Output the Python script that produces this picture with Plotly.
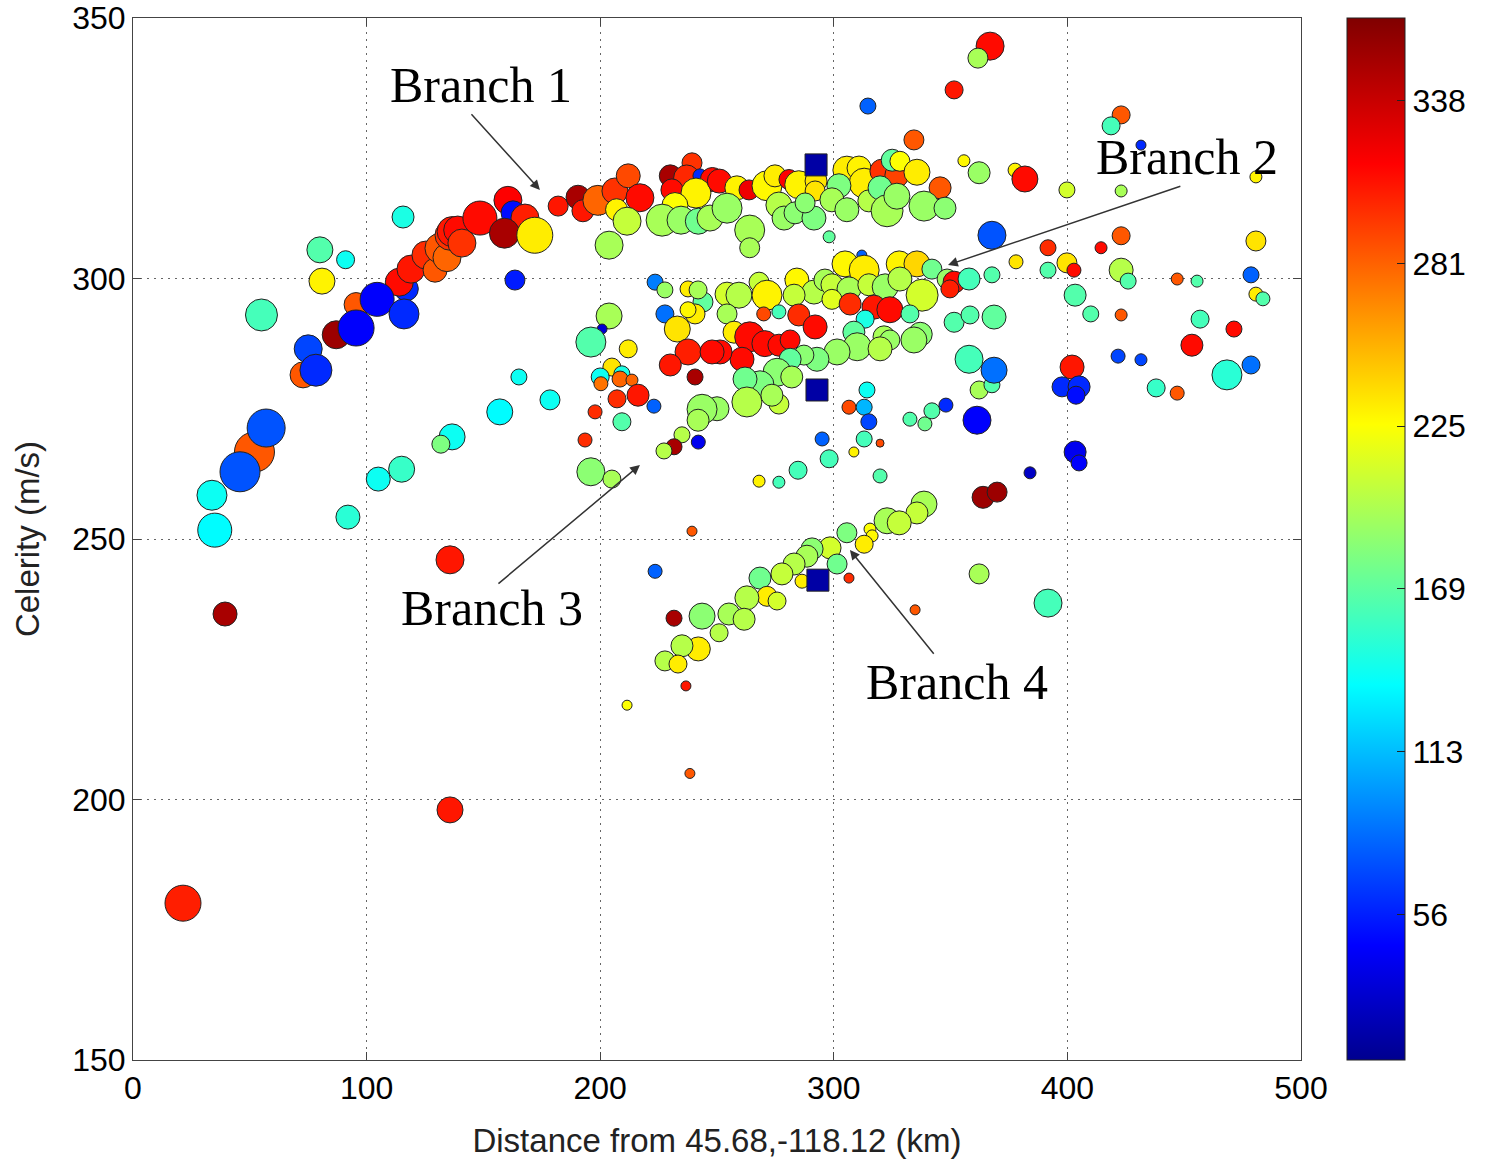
import plotly.graph_objects as go

# ---------------- data ----------------
distance_km = [
    21.4, 39.4, 135.7, 135.7, 35, 33.8, 52, 45.8, 57, 55,
    80, 80.9, 91, 72.8, 75, 78.3, 87, 95.5, 95.5, 117,
    114, 104.5, 116, 119, 105, 115, 92, 115.6, 125.4, 129.3,
    131.4, 134.4, 135.7, 136.6, 139, 140.8, 148.5, 160.5, 162.7, 167.8,
    159, 172, 163.5, 182, 190.5, 192.6, 199, 206.3, 212, 217,
    207, 211.5, 203.8, 230, 239.3, 237, 242.7, 248, 230.7, 241,
    232, 226.5, 234.6, 242, 247, 251, 258.5, 263.7, 271.4, 274.8,
    280.8, 285, 292.4, 292, 305.6, 310.8, 313, 320.6, 327, 325,
    328.3, 335.6, 345.5, 334.3, 351.5, 314.6, 366.9, 361.7, 355.7, 362.2,
    367.7, 254.3, 264, 276.5, 278.7, 283.4, 291.5, 287.7, 302.2, 299.2,
    305.6, 315, 319.8, 322.8, 327, 338.6, 347.6, 298, 264,
    423, 418.7, 431.5, 377.6, 381.8, 399.8, 423, 480.7, 423, 414.4,
    391.7, 480.7,
    378, 391.7, 399.8, 402.8, 423, 426, 403.3, 410, 423, 447,
    455.5, 478.6, 480.7, 483.7, 456.8, 471.3, 453.3, 421.7, 431.5, 402,
    397.7, 405, 403.7, 468.3, 478.6, 438, 447, 403.3, 405, 384,
    312, 304.8, 313, 328, 335.6, 342, 348.5, 351.5, 349.7, 357.9,
    367.7, 254.3, 259.4, 268, 271.4, 284.2, 291.5, 296.2, 299.2, 306.5,
    315, 322, 328.3, 337.8, 299.2, 283, 307, 317.2, 324, 313.4,
    332.6, 285, 276.5, 270, 254.3, 292, 257.3, 264, 270.5, 276.5,
    281.3, 260.7, 251.3, 308.6, 310, 321.5, 324, 319.8, 337, 334.3,
    301.4, 292.8, 287.2, 281.3, 275.7, 268.4, 262, 282, 262.8, 276.5,
    273.5, 250, 314.2, 306.5, 313, 315, 313, 319.8, 308.6, 295,
    298, 284.7, 319.8, 268, 276.5, 332.6, 339, 342, 348, 361.3,
    362.2, 367.7, 368.6, 357.9, 351.5, 358.3, 368.6, 363.9, 369.9,
    223.5, 227.7, 237.6, 244, 241.9, 240.6, 237.6, 227.7, 233, 237.6,
    230, 247.9, 240.6, 203.8, 200.8, 196, 212, 205, 200, 209.3,
    208.5, 213.6, 200.3, 207.2, 216.2, 223, 209.3, 197.8, 193.5, 243.6,
    241.9, 235, 231.6, 227.3, 242, 196, 205, 165.2, 178.5, 157,
    136.6, 131.8,
    239.3, 223.5, 231.6, 243.6, 242, 235, 227.7, 233.3, 236.7, 211.5,
    238.4,
    338.6, 335.6, 322.8, 328, 315.5, 316.4, 305.6, 313, 298.4, 290.7,
    288.5, 283, 301.4, 286.4, 277.8, 268.4, 271.4, 262.8, 275.7, 255.1,
    261.6, 250.9, 306.5, 334.8, 362.2, 391.7,
]

celerity = [
    180.1, 235.6, 246, 198, 251.7, 258.4, 266.7, 262.9, 271.3, 293,
    305.5, 299.5, 303.6, 281.5, 286.5, 282.4, 289.2, 295, 290.5, 298,
    299.3, 296, 293.2, 301.8, 261.5, 263.4, 254.2, 311.8, 304.5, 301.6,
    305.8, 304, 308.3, 309, 309.3, 306.8, 311.6, 315, 312.6, 311.6,
    308.7, 308.3, 299.7, 313.9, 315.6, 313, 315, 316.8, 319.7, 315.5,
    313.2, 311, 306.4, 319.7, 322.2, 319.3, 319.7, 319, 317, 316.4,
    314, 311.2, 311.2, 311, 311.6, 318.7, 317.4, 317, 317.8, 319.7,
    319, 318, 318.7, 316.8, 320.8, 321.2, 318.3, 320.6, 319.8, 322.7,
    322.5, 320.4, 317.4, 326.6, 336.2, 333.1, 344.6, 342.3, 322.6, 320.3,
    308.3, 313.5, 309.3, 314.1, 311.6, 312.6, 311.6, 314.5, 317.8, 315.1,
    313.2, 314.9, 317.4, 313, 315.8, 313.9, 313.5, 308, 305.9,
    331.4, 329.3, 325.6, 320.8, 319.1, 317, 316.8, 319.5, 308.2, 305.9,
    305.9, 307.2,
    303.2, 301.6, 303, 301.6, 301.6, 299.5, 296.8, 293.2, 293, 299.9,
    299.5, 300.7, 297, 296.1, 292.2, 290.3, 287.2, 285.1, 284.4, 283,
    279.2, 279.2, 277.6, 281.5, 283.4, 279, 278, 266.7, 264.6, 262.7,
    304.5, 302.8, 301.6, 302.8, 302.8, 301.8, 299.9, 299.3, 298, 299.9,
    300.7, 297, 296.8, 299.3, 296.8, 299.7, 297.4, 299.7, 298.8, 298,
    298.8, 298.4, 299.9, 296.8, 296, 296.8, 295.1, 294.5, 294, 292.2,
    293.2, 293, 293.6, 293.2, 293.2, 290.7, 289.7, 288.8, 287.5, 287.2,
    288.2, 284.5, 285.9, 289.7, 286.9, 288.8, 288.2, 286.5, 289.3, 288.2,
    285.9, 284.5, 285.3, 284.5, 282, 279.6, 280.7, 281.1, 276.3, 275.9,
    277.6, 275, 278.6, 275.3, 275.3, 272.5, 269.2, 268.4, 266.7, 269.2,
    265.4, 263.2, 262.1, 261.1, 260.9, 273, 272.1, 274.6, 275.7, 272.8,
    278.6, 279.6, 282.4, 284.5, 291.6, 293, 292.6, 258, 259,
    299.3, 297.8, 298, 295.5, 297.8, 293.2, 294, 293.2, 290.3, 285.9,
    283.4, 285.9, 281.1, 292.8, 290.3, 287.8, 286.5, 283, 281.1, 281.7,
    280.7, 280.5, 279.8, 276.9, 277.6, 275.5, 272.5, 274.4, 269, 274.9,
    272.8, 270, 267.7, 266.9, 268.6, 262.9, 261.5, 281.1, 276.7, 274.4,
    269.6, 268.2,
    251.5, 243.8, 234.8, 235.2, 228.9, 229.5, 226.6, 226, 221.8, 218.1,
    205,
    256.7, 255, 253.5, 253.1, 251.9, 250.6, 251.2, 249, 248.3, 248.1,
    246.7, 245.2, 245.2, 241.9, 243.3, 242.5, 239, 238.7, 238.1, 235.6,
    234.6, 232, 242.5, 236.4, 243.3, 237.7,
]

back_azimuth = [
    305, 350, 308, 308, 135, 140, 285, 75, 75, 160,
    165, 230, 140, 285, 70, 60, 355, 285, 45, 60,
    312, 45, 60, 308, 140, 155, 150, 145, 300, 285,
    285, 280, 298, 308, 312, 298, 312, 316, 50, 305,
    350, 232, 55, 308, 350, 308, 280, 298, 290, 312,
    230, 205, 195, 350, 298, 302, 60, 312, 312, 230,
    225, 195, 190, 175, 195, 312, 230, 322, 228, 232,
    316, 230, 235, 235, 232, 230, 232, 298, 292, 170,
    225, 232, 285, 285, 308, 80, 312, 195, 228, 190,
    75, 190, 195, 200, 190, 185, 180, 185, 180, 195,
    190, 200, 175, 195, 190, 190, 185, 170, 195,
    285, 160, 60, 230, 312, 210, 195, 230, 285, 312,
    300, 235,
    235, 165, 235, 312, 200, 165, 165, 165, 285, 285,
    165, 80, 232, 165, 160, 312, 312, 70, 70, 308,
    60, 60, 50, 150, 85, 155, 285, 40, 45, 25,
    80, 228, 232, 230, 240, 175, 190, 312, 305, 160,
    165, 210, 200, 205, 230, 228, 200, 195, 205, 195,
    205, 190, 200, 210, 215, 205, 300, 308, 312, 145,
    165, 300, 160, 290, 195, 312, 232, 312, 312, 312,
    312, 312, 312, 170, 190, 195, 190, 200, 185, 190,
    190, 180, 185, 170, 185, 180, 175, 195, 200, 205,
    195, 190, 140, 290, 110, 70, 160, 290, 230, 80,
    160, 160, 165, 230, 160, 165, 175, 165, 60, 45,
    195, 165, 85, 160, 165, 165, 170, 355, 355,
    90, 190, 232, 170, 195, 232, 228, 85, 235, 305,
    308, 312, 350, 195, 30, 165, 232, 235, 140, 145,
    280, 280, 275, 300, 308, 80, 165, 300, 300, 190,
    195, 200, 350, 200, 40, 185, 195, 140, 140, 135,
    140, 180,
    285, 80, 350, 185, 232, 200, 200, 232, 308, 225,
    285,
    195, 205, 195, 205, 225, 228, 180, 232, 210, 185,
    195, 200, 175, 232, 205, 175, 232, 200, 210, 195,
    200, 200, 300, 285, 195, 160,
]

relative_amplitude = [
    36, 24, 28, 26, 34, 30, 40, 40, 38, 32,
    26, 26, 18, 26, 28, 32, 28, 24, 36, 24,
    28, 34, 30, 28, 24, 26, 24, 22, 28, 24,
    30, 28, 30, 30, 28, 28, 34, 28, 24, 28,
    30, 36, 20, 20, 24, 22, 30, 26, 24, 28,
    22, 28, 28, 22, 20, 26, 14, 24, 22, 30,
    26, 32, 28, 26, 26, 24, 24, 20, 30, 22,
    20, 28, 22, 20, 28, 24, 30, 24, 24, 22,
    20, 26, 22, 20, 18, 16, 28, 20, 12, 22,
    28, 30, 30, 26, 24, 22, 24, 20, 24, 24,
    24, 22, 24, 32, 26, 30, 22, 12, 20,
    18, 18, 10, 14, 26, 16, 12, 12, 18, 12,
    16, 20,
    14, 16, 20, 14, 24, 16, 22, 16, 12, 12,
    12, 16, 14, 14, 18, 16, 22, 14, 12, 24,
    20, 22, 18, 30, 18, 18, 14, 22, 16, 12,
    10, 26, 30, 26, 26, 20, 20, 22, 18, 22,
    16, 24, 26, 20, 30, 24, 24, 22, 22, 24,
    22, 26, 24, 32, 20, 22, 22, 24, 26, 18,
    18, 22, 14, 14, 20, 24, 22, 30, 26, 22,
    20, 24, 24, 22, 28, 22, 20, 24, 24, 26,
    26, 24, 20, 22, 28, 28, 24, 22, 30, 20,
    22, 24, 16, 14, 16, 16, 16, 8, 10, 14,
    18, 18, 14, 12, 12, 14, 14, 16, 14, 28,
    18, 16, 26, 28, 20, 18, 24, 22, 20,
    16, 16, 16, 20, 18, 20, 16, 18, 26, 26,
    22, 24, 16, 26, 10, 30, 18, 18, 18, 16,
    16, 12, 14, 18, 22, 14, 18, 14, 14, 30,
    22, 16, 16, 16, 14, 28, 18, 16, 20, 26,
    26, 18,
    10, 14, 16, 26, 24, 22, 20, 18, 10, 10,
    10,
    26, 22, 26, 24, 12, 12, 20, 18, 22, 22,
    22, 22, 20, 14, 22, 22, 20, 24, 18, 22,
    22, 18, 10, 10, 20, 28,
]

# square-marker events
sq_distance_km = [292.4, 292.8, 293.2]
sq_celerity = [321.8, 278.6, 242.1]
sq_relative_amplitude = [22, 22, 22]

cbar_tickvals = [56.25, 112.5, 168.75, 225, 281.25, 337.5]
cbar_ticktext = ["56", "113", "169", "225", "281", "338"]
x_ticks = [0, 100, 200, 300, 400, 500]
y_ticks = [150, 200, 250, 300, 350]

branch_labels = ["Branch 1", "Branch 2", "Branch 3", "Branch 4"]
label_x = [149, 451.2, 153.7, 352.7]
label_y = [337.1, 323.3, 236.8, 222.6]
arrow_tail_x = [144.3, 449, 155.8, 343.3]
arrow_tail_y = [331.8, 317.8, 241.2, 227.7]
arrow_head_x = [174.2, 348.9, 217, 306.9]
arrow_head_y = [317, 302.6, 264.2, 247.9]

# ---------------- figure ----------------
jet = [
    [0.0, "rgb(0,0,143)"],
    [0.11, "rgb(0,0,255)"],
    [0.36, "rgb(0,255,255)"],
    [0.61, "rgb(255,255,0)"],
    [0.86, "rgb(255,0,0)"],
    [1.0, "rgb(128,0,0)"],
]
CMIN, CMAX = 6, 366
SANS = "Liberation Sans, Arial, sans-serif"

fig = go.Figure()

fig.add_trace(go.Scatter(
    x=distance_km, y=celerity, mode="markers",
    marker=dict(
        size=relative_amplitude, sizemode="diameter",
        color=back_azimuth, colorscale=jet, cmin=CMIN, cmax=CMAX,
        line=dict(color="#222222", width=1),
        opacity=1,
        colorbar=dict(
            x=1.0394, xanchor="left", y=0.5, yanchor="middle",
            len=1, lenmode="fraction", thickness=58, thicknessmode="pixels",
            xpad=0, ypad=0, outlinewidth=1, outlinecolor="#222222",
            ticks="inside", ticklen=8, tickcolor="#222222",
            tickvals=cbar_tickvals, ticktext=cbar_ticktext,
            tickfont=dict(size=32, color="black", family=SANS),
        ),
    ),
    hoverinfo="x+y", showlegend=False,
))

fig.add_trace(go.Scatter(
    x=sq_distance_km, y=sq_celerity, mode="markers",
    marker=dict(
        size=sq_relative_amplitude, symbol="square",
        color="rgb(0,0,165)", opacity=1,
        line=dict(color="#222222", width=1),
    ),
    showlegend=False,
))

for i, txt in enumerate(branch_labels):
    fig.add_annotation(
        x=label_x[i], y=label_y[i], xref="x", yref="y", text=txt,
        showarrow=False, xanchor="center", yanchor="middle",
        font=dict(family="Liberation Serif, Times New Roman, serif", size=50, color="black"),
    )
    fig.add_annotation(
        x=arrow_head_x[i], y=arrow_head_y[i], xref="x", yref="y",
        ax=arrow_tail_x[i], ay=arrow_tail_y[i], axref="x", ayref="y",
        text="", showarrow=True, arrowhead=2, arrowsize=1.3,
        arrowwidth=1.5, arrowcolor="#333333", standoff=0,
    )

axis_common = dict(
    showline=True, linecolor="#444444", linewidth=1, mirror="ticks",
    ticks="inside", ticklen=8, tickcolor="#444444",
    showgrid=True, gridcolor="#666666", gridwidth=1, griddash="2px,5px",
    zeroline=False, automargin=False,
    tickfont=dict(size=32, color="black", family=SANS),
)

fig.update_xaxes(
    range=[0, 500], tickvals=x_ticks,
    title=dict(text="Distance from 45.68,-118.12 (km)", standoff=24,
               font=dict(size=33, color="#222222", family=SANS)),
    **axis_common,
)
fig.update_yaxes(
    range=[150, 350], tickvals=y_ticks,
    title=dict(text="Celerity (m/s)", standoff=22,
               font=dict(size=33, color="#222222", family=SANS)),
    **axis_common,
)

fig.update_layout(
    width=1485, height=1159,
    margin=dict(l=133, r=184, t=18, b=99, autoexpand=False),
    plot_bgcolor="white", paper_bgcolor="white",
    showlegend=False,
    font=dict(family=SANS, color="black"),
)

# remove the browser's default 8px body margin so the figure fills the window
fig.write_html(
    "out.html",
    config={"displayModeBar": False},
    post_script="document.body.style.margin='0';document.body.style.overflow='hidden';",
)
